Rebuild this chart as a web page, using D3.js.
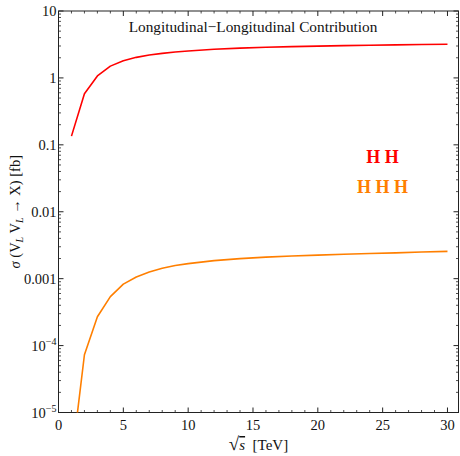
<!DOCTYPE html>
<html>
<head>
<meta charset="utf-8">
<script src="https://cdn.jsdelivr.net/npm/d3@7"></script>
<style>
  html, body { margin: 0; padding: 0; background: #fff; }
  svg { display: block; font-family: "Liberation Serif", "DejaVu Serif", serif; }
</style>
</head>
<body>
<div id="chart"></div>
<script>
// sqrt(s) in TeV
const energies = [1, 2, 3, 4, 5, 6, 7, 8, 9, 10, 12, 14, 16, 18, 20, 22, 24, 26, 28, 30];
// sigma(V_L V_L -> HH) [fb]
const sigmaHH = [0.135, 0.58, 1.07, 1.5, 1.81, 2.03, 2.2, 2.33, 2.44, 2.53, 2.68, 2.79, 2.88, 2.94, 2.99, 3.04, 3.08, 3.12, 3.15, 3.18];
// sigma(V_L V_L -> HHH) [fb]
const sigmaHHH = [1.8e-6, 7.3e-5, 2.7e-4, 5.4e-4, 8.3e-4, 1.06e-3, 1.26e-3, 1.43e-3, 1.57e-3, 1.68e-3, 1.86e-3, 1.99e-3, 2.1e-3, 2.18e-3, 2.25e-3, 2.32e-3, 2.38e-3, 2.43e-3, 2.5e-3, 2.56e-3];

const xTicks = [0, 5, 10, 15, 20, 25, 30];
const yTicks = [1e-5, 1e-4, 1e-3, 1e-2, 1e-1, 1, 10];
const yTickLabels = [["10", "\u22125"], ["10", "\u22124"], ["0.001"], ["0.01"], ["0.1"], ["1"], ["10"]];

const seriesNames = ["H H", "H H H"];
const seriesColors = ["#ff0000", "#ff7f00"];
const title = "Longitudinal\u2212Longitudinal Contribution";

const width = 460, height = 456;
const margin = {top: 11, right: 1.5, bottom: 43.5, left: 58.5};
const innerW = width - margin.left - margin.right;
const innerH = height - margin.top - margin.bottom;

const svg = d3.select("#chart").append("svg")
  .attr("width", width)
  .attr("height", height);

const g = svg.append("g")
  .attr("transform", `translate(${margin.left},${margin.top})`);

const x = d3.scaleLinear().domain([0, 30.85]).range([0, innerW]);
const y = d3.scaleLog().domain([1e-5, 10]).range([innerH, 0]);

// minor ticks
const xMinor = d3.range(0, 31, 1).filter(v => v % 5 !== 0);
const yMinor = [];
for (let e = -5; e < 1; e++) {
  for (let m = 2; m <= 9; m++) yMinor.push(m * Math.pow(10, e));
}

const tickColor = "#222";
const frame = g.append("g");

// ticks on all four sides, pointing in
const drawXTicks = (yPos, dir) => {
  frame.selectAll(null).data(xTicks).join("line")
    .attr("x1", d => x(d)).attr("x2", d => x(d))
    .attr("y1", yPos).attr("y2", yPos + dir * 5)
    .attr("stroke", tickColor).attr("stroke-width", 1);
  frame.selectAll(null).data(xMinor).join("line")
    .attr("x1", d => x(d)).attr("x2", d => x(d))
    .attr("y1", yPos).attr("y2", yPos + dir * 2.5)
    .attr("stroke", tickColor).attr("stroke-width", 0.8);
};
const drawYTicks = (xPos, dir) => {
  frame.selectAll(null).data(yTicks).join("line")
    .attr("y1", d => y(d)).attr("y2", d => y(d))
    .attr("x1", xPos).attr("x2", xPos + dir * 5)
    .attr("stroke", tickColor).attr("stroke-width", 1);
  frame.selectAll(null).data(yMinor).join("line")
    .attr("y1", d => y(d)).attr("y2", d => y(d))
    .attr("x1", xPos).attr("x2", xPos + dir * 2.5)
    .attr("stroke", tickColor).attr("stroke-width", 0.8);
};
drawXTicks(innerH, -1);
drawXTicks(0, 1);
drawYTicks(0, 1);
drawYTicks(innerW, -1);

frame.append("rect")
  .attr("x", 0).attr("y", 0)
  .attr("width", innerW).attr("height", innerH)
  .attr("fill", "none")
  .attr("stroke", tickColor)
  .attr("stroke-width", 1);

// tick labels
g.append("g").selectAll("text").data(xTicks).join("text")
  .attr("x", d => x(d))
  .attr("y", innerH + 17)
  .attr("text-anchor", "middle")
  .attr("font-size", 14.5)
  .attr("fill", "#111")
  .text(d => d);

const yLab = g.append("g").selectAll("text").data(yTicks).join("text")
  .attr("x", -2)
  .attr("y", d => y(d) + 5)
  .attr("text-anchor", "end")
  .attr("font-size", 14.5)
  .attr("fill", "#111");
yLab.each(function(d, i) {
  const lab = yTickLabels[i];
  const t = d3.select(this);
  if (lab.length === 1) {
    t.text(lab[0]);
  } else {
    t.append("tspan").text(lab[0]);
    t.append("tspan").attr("font-size", 10).attr("dy", -6).text(lab[1]);
  }
});

// data lines
g.append("clipPath").attr("id", "clip")
  .append("rect").attr("width", innerW).attr("height", innerH);

const line = d3.line()
  .x(d => x(d[0]))
  .y(d => y(d[1]));

[sigmaHH, sigmaHHH].forEach((vals, i) => {
  g.append("path")
    .datum(energies.map((e, k) => [e, vals[k]]))
    .attr("clip-path", "url(#clip)")
    .attr("fill", "none")
    .attr("stroke", seriesColors[i])
    .attr("stroke-width", 1.6)
    .attr("stroke-linejoin", "round")
    .attr("d", line);
});

// title inside the frame
g.append("text")
  .attr("x", (130 + 376) / 2 - margin.left)
  .attr("y", 21)
  .attr("text-anchor", "middle")
  .attr("font-size", 15.3)
  .attr("fill", "#111")
  .text(title);

// series labels
g.append("g").selectAll("text").data(seriesNames).join("text")
  .attr("x", 382.5 - margin.left)
  .attr("y", (d, i) => 163 - margin.top + i * 30)
  .attr("text-anchor", "middle")
  .attr("font-size", 18)
  .attr("font-weight", "bold")
  .attr("fill", (d, i) => seriesColors[i])
  .text(d => d);

// axis labels
const xl = svg.append("text")
  .attr("x", margin.left + innerW / 2)
  .attr("y", 450)
  .attr("text-anchor", "middle")
  .attr("font-size", 15)
  .attr("fill", "#111");
xl.append("tspan").attr("font-size", 19).text("\u221A");
xl.append("tspan").attr("font-style", "italic").attr("text-decoration", "overline").text("s");
xl.append("tspan").text("\u2002[TeV]");

const yl = svg.append("text")
  .attr("transform", `translate(20,${margin.top + innerH / 2}) rotate(-90)`)
  .attr("text-anchor", "middle")
  .attr("font-size", 14.5)
  .attr("fill", "#111");
yl.append("tspan").attr("font-style", "italic").text("\u03C3");
yl.append("tspan").text(" (V");
yl.append("tspan").attr("font-size", 10).attr("font-style", "italic").attr("dy", 3).text("L");
yl.append("tspan").attr("dy", -3).text(" V");
yl.append("tspan").attr("font-size", 10).attr("font-style", "italic").attr("dy", 3).text("L");
yl.append("tspan").attr("dy", -3).text(" \u2192 X) [fb]");
</script>
</body>
</html>
